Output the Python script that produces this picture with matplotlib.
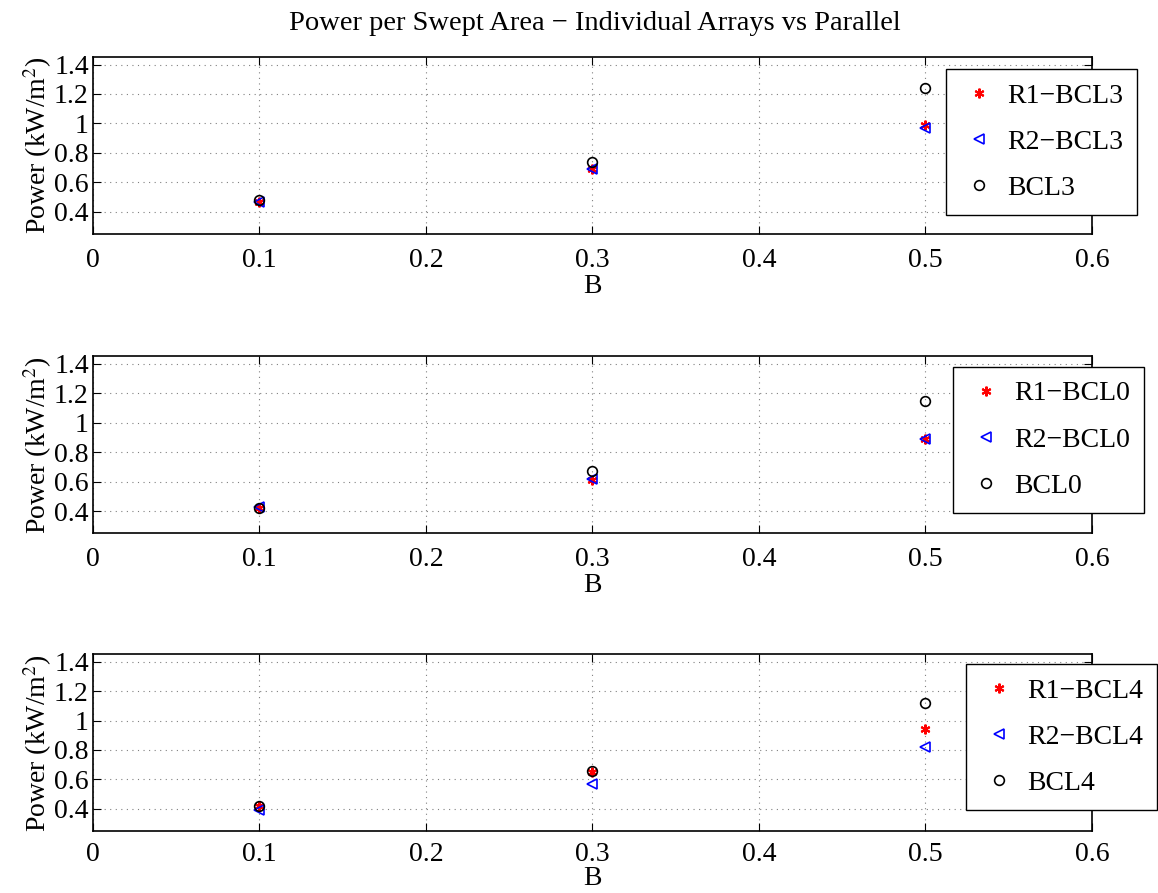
import matplotlib
matplotlib.use('Agg')
import matplotlib.pyplot as plt

plt.rcParams['font.family'] = ['Liberation Serif', 'DejaVu Serif']
plt.rcParams['mathtext.fontset'] = 'stix'

B = [0.1, 0.3, 0.5]
cases = ['BCL3', 'BCL0', 'BCL4']
r1_vals = [[0.47, 0.69, 0.99], [0.42, 0.61, 0.89], [0.42, 0.65, 0.94]]
r2_vals = [[0.47, 0.69, 0.97], [0.43, 0.62, 0.89], [0.39, 0.57, 0.82]]
par_vals = [[0.48, 0.74, 1.24], [0.42, 0.67, 1.15], [0.42, 0.66, 1.12]]

xticks = [0, 0.1, 0.2, 0.3, 0.4, 0.5, 0.6]
xticklabels = ['0', '0.1', '0.2', '0.3', '0.4', '0.5', '0.6']
yticks = [0.4, 0.6, 0.8, 1.0, 1.2, 1.4]
yticklabels = ['0.4', '0.6', '0.8', '1', '1.2', '1.4']

fig = plt.figure(figsize=(11.58, 8.93), dpi=100)
fig.text(0.514, 0.974, 'Power per Swept Area \u2212 Individual Arrays vs Parallel',
         ha='center', va='center', fontsize=20.5)

bottoms = [0.738, 0.403, 0.0694]
legend_x = [1.045, 1.052, 1.065]
legend_y = [0.932, 0.94, 0.943]
xtick_pad = [10, 10, 8]
xlabel_pad = [0.5, 0.5, -0.5]

for i, case in enumerate(cases):
    ax = fig.add_axes([0.0803, bottoms[i], 0.8627, 0.198])
    ax.plot(B, r1_vals[i], linestyle='none', marker=(6, 2, 0), color='red',
            markersize=7, markeredgewidth=1.5, label='R1\u2212' + case)
    ax.plot(B, r2_vals[i], linestyle='none', marker='<', markerfacecolor='none',
            markeredgecolor='blue', markersize=7, markeredgewidth=1.2,
            label='R2\u2212' + case)
    ax.plot(B, par_vals[i], linestyle='none', marker='o', markerfacecolor='none',
            markeredgecolor='black', markersize=7, markeredgewidth=1.2, label=case)
    ax.set_xlim(0, 0.6)
    ax.set_ylim(0.25, 1.45)
    ax.set_xticks(xticks)
    ax.set_xticklabels(xticklabels)
    ax.set_yticks(yticks)
    ax.set_yticklabels(yticklabels)
    ax.tick_params(direction='in', top=True, right=True, labelsize=20,
                   length=6)
    ax.tick_params(axis='x', pad=xtick_pad[i])
    ax.tick_params(axis='y', pad=3)
    ax.grid(True, linestyle=(0, (1, 4)), color='gray', linewidth=0.8)
    for s in ax.spines.values():
        s.set_linewidth(1.2)
    ax.set_xlabel('B', fontsize=20, labelpad=xlabel_pad[i])
    ax.set_ylabel('Power (kW/m$^2$)', fontsize=20, labelpad=0)
    leg = ax.legend(loc='upper right', bbox_to_anchor=(legend_x[i], legend_y[i]),
                    fontsize=20, fancybox=False, edgecolor='black',
                    framealpha=1, handletextpad=0.3, borderpad=0.5,
                    labelspacing=0.75, handlelength=1.4, borderaxespad=0)
    leg.get_frame().set_linewidth(1.0)

fig.savefig('out.png', dpi=100)
